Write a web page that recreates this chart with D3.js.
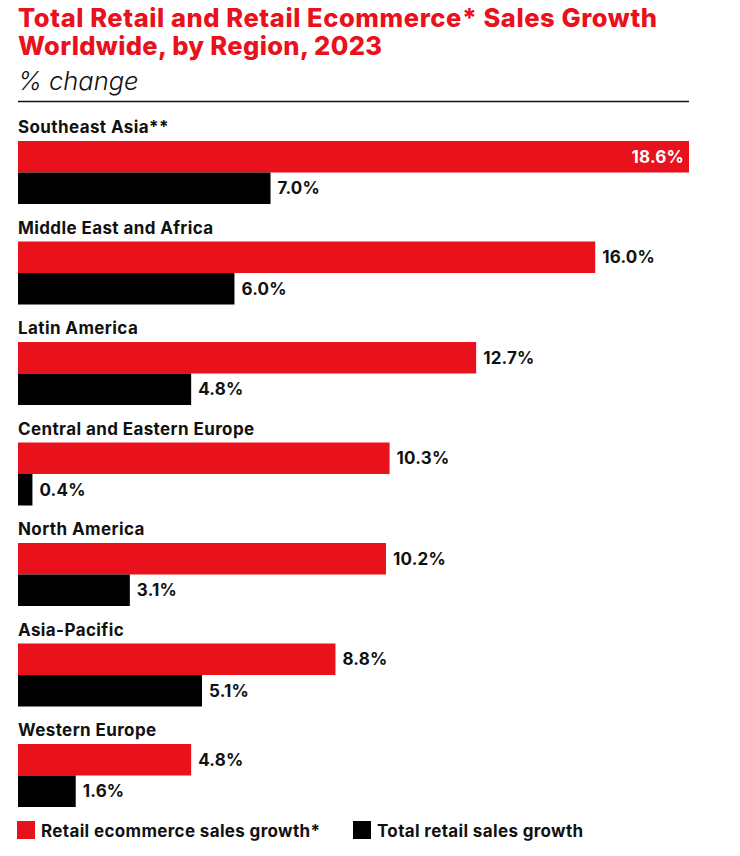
<!DOCTYPE html>
<html>
<head>
<meta charset="utf-8">
<script src="https://cdn.jsdelivr.net/npm/d3@7"></script>
<style>
  html, body { margin: 0; padding: 0; background: #fff; }
  svg { display: block; }
  text { font-family: Inter, "Liberation Sans", Arial, sans-serif; }
</style>
</head>
<body>
<svg id="chart" width="740" height="856"></svg>
<script>
const regions = ["Southeast Asia**", "Middle East and Africa", "Latin America", "Central and Eastern Europe", "North America", "Asia-Pacific", "Western Europe"];
const ecommerceGrowth = [18.6, 16.0, 12.7, 10.3, 10.2, 8.8, 4.8];
const totalRetailGrowth = [7.0, 6.0, 4.8, 0.4, 3.1, 5.1, 1.6];
const seriesNames = ["Retail ecommerce sales growth*", "Total retail sales growth"];
const seriesKeys = ["ecom", "total"];
const titleLines = ["Total Retail and Retail Ecommerce* Sales Growth", "Worldwide, by Region, 2023"];
const subtitle = "% change";

const RED = "#E8111C";
const BLACK = "#000000";
const colors = d3.scaleOrdinal().domain(seriesKeys).range([RED, BLACK]);

const data = regions.map((r, i) => ({ region: r, ecom: ecommerceGrowth[i], total: totalRetailGrowth[i] }));

const svg = d3.select("#chart");
const left = 18;

// Title
const titleWidths = [639, 364];
svg.append("g").selectAll("text").data(titleLines).join("text")
  .attr("x", left)
  .attr("y", (d, i) => 27 + i * 28)
  .attr("fill", RED)
  .attr("font-size", 25.5)
  .attr("font-weight", 800)
  .attr("textLength", (d, i) => titleWidths[i])
  .attr("lengthAdjust", "spacing")
  .text(d => d);

svg.append("text")
  .attr("x", left).attr("y", 90)
  .attr("font-size", 25.5)
  .attr("font-style", "italic")
  .attr("font-weight", 300)
  .attr("fill", "#111")
  .text(subtitle);

svg.append("line")
  .attr("x1", left).attr("x2", 689)
  .attr("y1", 101.5).attr("y2", 101.5)
  .attr("stroke", "#111").attr("stroke-width", 1.5);

// Scales
const x = d3.scaleLinear().domain([0, 18.6]).range([left, 689]);
const y0 = d3.scaleBand().domain(regions).range([141, 141 + 7 * 100.5]).padding(0);
const y1 = d3.scaleBand().domain(seriesKeys).range([0, 63]).padding(0);

const groups = svg.append("g").selectAll("g").data(data).join("g")
  .attr("transform", d => `translate(0,${y0(d.region)})`);

groups.append("text")
  .attr("x", left).attr("y", -8)
  .attr("font-size", 17)
  .attr("font-weight", 700)
  .attr("letter-spacing", 0.4)
  .attr("fill", "#111")
  .text(d => d.region);

groups.selectAll("rect").data(d => seriesKeys.map(k => ({ key: k, value: d[k] }))).join("rect")
  .attr("x", x(0))
  .attr("y", d => y1(d.key))
  .attr("width", d => x(d.value) - x(0))
  .attr("height", y1.bandwidth())
  .attr("fill", d => colors(d.key));

const maxVal = d3.max(ecommerceGrowth);
groups.selectAll("text.val").data(d => seriesKeys.map(k => ({ key: k, value: d[k] }))).join("text")
  .attr("class", "val")
  .attr("x", d => d.value === maxVal ? x(d.value) - 5 : x(d.value) + 7)
  .attr("y", d => y1(d.key) + y1.bandwidth() / 2 + 6)
  .attr("text-anchor", d => d.value === maxVal ? "end" : "start")
  .attr("font-size", 17)
  .attr("font-weight", 700)
  .attr("letter-spacing", 0.2)
  .attr("fill", d => d.value === maxVal ? "#fff" : "#111")
  .text(d => d.value.toFixed(1) + "%");

// Legend
const legendX = [17, 353];
const legend = svg.append("g").selectAll("g").data(seriesKeys).join("g")
  .attr("transform", (d, i) => `translate(${legendX[i]},821)`);
legend.append("rect").attr("width", 18).attr("height", 18).attr("fill", d => colors(d));
legend.append("text")
  .attr("x", 24).attr("y", 15.5)
  .attr("font-size", 17)
  .attr("font-weight", 700)
  .attr("letter-spacing", 0.35)
  .attr("fill", "#111")
  .text((d, i) => seriesNames[i]);
</script>
</body>
</html>
